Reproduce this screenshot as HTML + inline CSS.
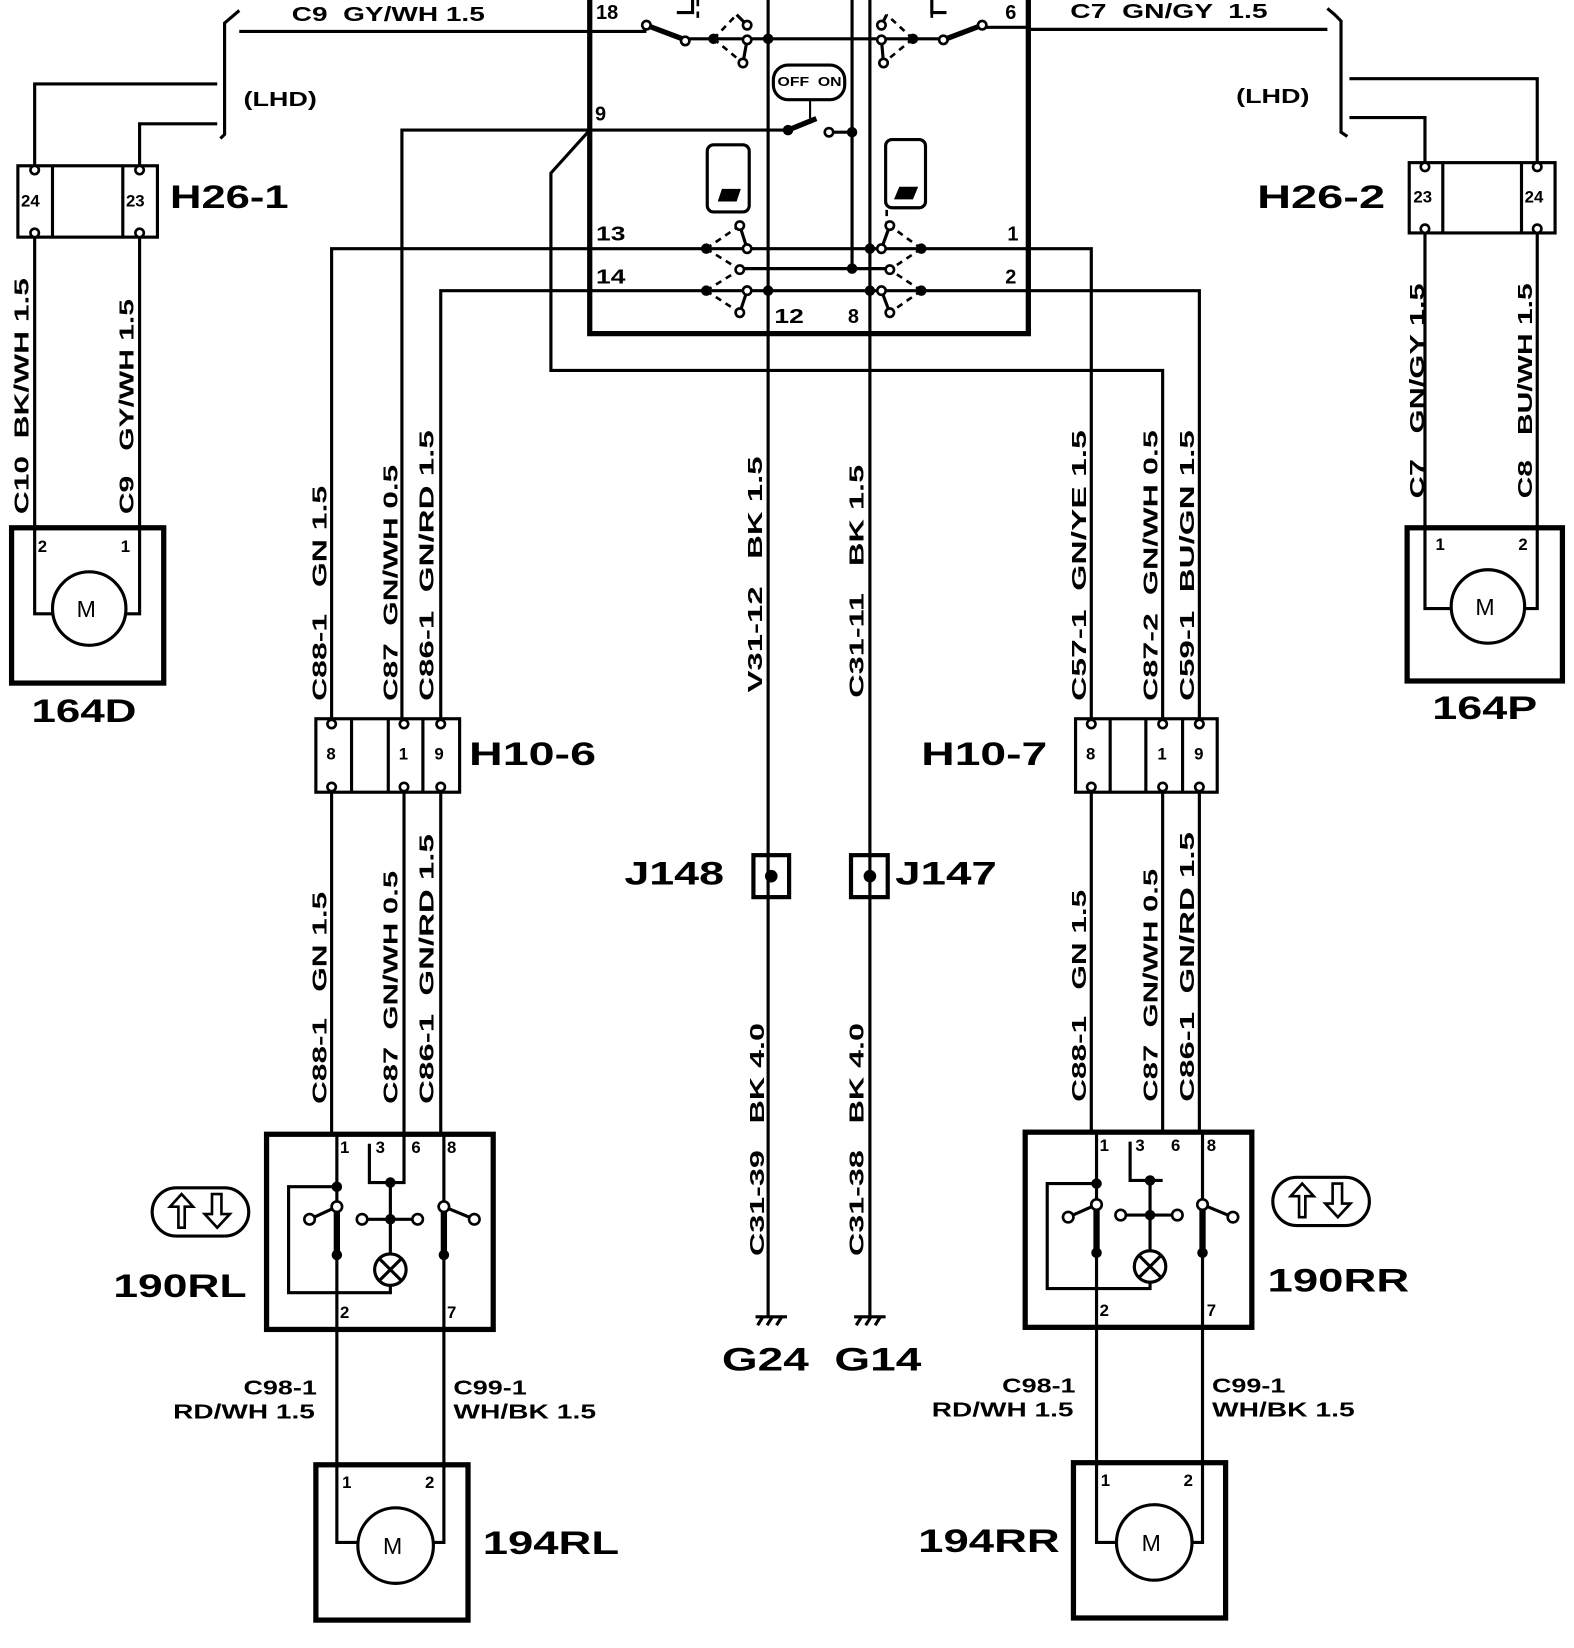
<!DOCTYPE html>
<html><head><meta charset="utf-8"><style>
html,body{margin:0;padding:0;background:#fff;}
svg{display:block;}
text{font-family:"Liberation Sans",Arial,sans-serif;fill:#000;white-space:pre;}
.s{font-size:19px;font-weight:bold;}
.b{font-size:31px;font-weight:bold;}
.p{font-size:16px;font-weight:bold;}
.m{font-size:22px;}
</style></head><body>
<svg width="1574" height="1648" viewBox="0 0 1500 1570.6" xmlns="http://www.w3.org/2000/svg">
<g fill="none" stroke="#000" stroke-width="3">
<path d="M228 30 H562"/>
<path d="M228 10 L221 16 L214 22 V128 L210 132"/>
<path d="M207 80 H33 V160 M207 118 H133 V160"/>
<rect x="17" y="158" width="133" height="68"/>
<path d="M50 158 V226 M117 158 V226"/>
<path d="M33 226 V585 H50 M133 226 V585 H120"/>
<rect x="11" y="503" width="145" height="148" stroke-width="5"/>
<circle cx="85" cy="580" r="35"/>
<path d="M980 28 H1265"/>
<path d="M1265 8 L1272 14 L1278 20 V126 L1284 130"/>
<path d="M1286 75 H1465 V158 M1286 112 H1358 V158"/>
<rect x="1343" y="155" width="139" height="67"/>
<path d="M1375 155 V222 M1450 155 V222"/>
<path d="M1358 222 V580 H1383 M1465 222 V580 H1453"/>
<rect x="1341" y="503" width="148" height="146" stroke-width="5"/>
<circle cx="1418" cy="578" r="35"/>
<path d="M562 0 V318 H980 V0" stroke-width="5"/>
<path d="M562 30 H616"/>
<path d="M653 38 L616 24" stroke-width="5"/>
<path d="M653 37 H899"/>
<path d="M899 38 L936 24" stroke-width="5"/>
<path d="M936 26 H980"/>
<path d="M732 0 V1255 M829 0 V1255 M812 0 V256"/>
<path d="M383 690 V124 H751"/>
<path d="M751 124 L778 113" stroke-width="5"/>
<path d="M790 126 H812"/>
<path d="M562 124 L525 165 V353 H1108 V690"/>
<path d="M316 690 V237 H1040 V690"/>
<path d="M420 690 V277 H1143 V690"/>
<path d="M705 256 H848"/>
<g stroke-dasharray="6,5" stroke-width="2.5">
<path d="M680 37 L702 14 M680 37 L708 60 M673 237 L705 215 M673 237 L705 257 M673 277 L705 257 M673 277 L705 298"/>
<path d="M870 37 L845 14 M870 37 L842 60 M878 237 L848 215 M878 237 L848 257 M878 277 L848 257 M878 277 L848 298"/>
<path d="M665 0 V22 M888 0 V22 M845 200 V215"/>
</g>
<path d="M712 24 L702 14 M712 38 L708 60 M705 215 L712 237 M712 277 L705 298"/>
<path d="M840 24 L845 14 M840 38 L842 60 M848 215 L840 237 M840 277 L848 298"/>
<path d="M645 12 H660 V0 M902 12 H888 V0"/>
<path d="M772 95 V118" stroke-width="2"/>
<rect x="737" y="62" width="68" height="33" rx="14"/>
<rect x="674" y="138" width="40" height="64" rx="6"/>
<rect x="844" y="133" width="38" height="65" rx="6"/>
<rect x="301" y="685" width="137" height="70"/>
<path d="M335 685 V755 M370 685 V755 M403 685 V755"/>
<rect x="1025" y="685" width="135" height="70"/>
<path d="M1058 685 V755 M1092 685 V755 M1127 685 V755"/>
<path d="M316 755 V1080 M385 755 V1080 M420 755 V1080"/>
<path d="M1040 755 V1078 M1108 755 V1078 M1143 755 V1078"/>
<rect x="718" y="815" width="34" height="40" stroke-width="4"/>
<rect x="811" y="815" width="35" height="40" stroke-width="4"/>
<path d="M720 1255 H750 M722 1263 L727 1255 M731 1263 L736 1255 M740 1263 L745 1255"/>
<path d="M814 1255 H844 M816 1263 L821 1255 M825 1263 L830 1255 M834 1263 L839 1255"/>
<rect x="254" y="1081" width="216" height="186" stroke-width="5"/>
<path d="M321 1080 V1150 M321 1190 V1470 H340"/>
<path d="M321 1150 V1196 M423 1150 V1196" stroke-width="6"/>
<path d="M423 1080 V1150 M423 1196 V1470 H413"/>
<path d="M352 1090 V1127 H385 V1080 M372 1127 V1195 M345 1162 H398"/>
<path d="M321 1131 H275 V1232 H372 V1225"/>
<path d="M321 1150 L295 1162 M423 1150 L452 1162"/>
<circle cx="372" cy="1210" r="15"/>
<path d="M361 1199 L383 1221 M383 1199 L361 1221"/>
<rect x="145" y="1132" width="92" height="46" rx="23"/>
<path d="M170 1170 V1150 H162 L173 1138 L184 1150 H176 V1170 Z M202 1138 V1157 H195 L207 1170 L219 1157 H211 V1138 Z" stroke-width="2.5"/>
<rect x="301" y="1396" width="145" height="148" stroke-width="5"/>
<circle cx="377" cy="1473" r="36"/>
<rect x="977" y="1079" width="216" height="186" stroke-width="5"/>
<path d="M1045 1078 V1148 M1045 1190 V1470 H1064"/>
<path d="M1045 1148 V1194 M1146 1148 V1194" stroke-width="6"/>
<path d="M1146 1078 V1148 M1146 1194 V1470 H1136"/>
<path d="M1077 1088 V1125 H1108 M1096 1125 V1193 M1068 1158 H1122"/>
<path d="M1045 1128 H998 V1228 H1096 V1222"/>
<path d="M1045 1148 L1018 1160 M1146 1148 L1175 1160"/>
<circle cx="1096" cy="1207" r="15"/>
<path d="M1085 1196 L1107 1218 M1107 1196 L1085 1218"/>
<rect x="1213" y="1122" width="92" height="46" rx="23"/>
<path d="M1238 1160 V1140 H1230 L1241 1128 L1252 1140 H1244 V1160 Z M1270 1128 V1147 H1263 L1275 1160 L1287 1147 H1279 V1128 Z" stroke-width="2.5"/>
<rect x="1023" y="1394" width="145" height="148" stroke-width="5"/>
<circle cx="1100" cy="1470" r="36"/>
</g>
<g fill="#000">
<circle cx="680" cy="37" r="5"/><circle cx="732" cy="37" r="5"/><circle cx="870" cy="37" r="5"/>
<circle cx="751" cy="124" r="5"/><circle cx="812" cy="126" r="5"/>
<circle cx="673" cy="237" r="5"/><circle cx="829" cy="237" r="5"/><circle cx="878" cy="237" r="5"/>
<circle cx="812" cy="256" r="5"/>
<circle cx="673" cy="277" r="5"/><circle cx="732" cy="277" r="5"/><circle cx="829" cy="277" r="5"/><circle cx="878" cy="277" r="5"/>
<circle cx="735" cy="835" r="6"/><circle cx="829" cy="835" r="6"/>
<circle cx="321" cy="1131" r="5"/><circle cx="372" cy="1127" r="5"/><circle cx="372" cy="1162" r="5"/>
<circle cx="321" cy="1196" r="5"/><circle cx="423" cy="1196" r="5"/>
<circle cx="1045" cy="1128" r="5"/><circle cx="1096" cy="1125" r="5"/><circle cx="1096" cy="1158" r="5"/>
<circle cx="1045" cy="1194" r="5"/><circle cx="1146" cy="1194" r="5"/>
</g>
<g fill="#fff" stroke="#000" stroke-width="2.5">
<circle cx="616" cy="24" r="4"/><circle cx="653" cy="39" r="4"/><circle cx="712" cy="24" r="4"/><circle cx="712" cy="38" r="4"/><circle cx="708" cy="60" r="4"/>
<circle cx="840" cy="24" r="4"/><circle cx="840" cy="38" r="4"/><circle cx="842" cy="60" r="4"/><circle cx="899" cy="38" r="4"/><circle cx="936" cy="24" r="4"/>
<circle cx="790" cy="126" r="4"/>
<circle cx="705" cy="215" r="4"/><circle cx="712" cy="237" r="4"/><circle cx="705" cy="257" r="4"/><circle cx="712" cy="277" r="4"/><circle cx="705" cy="298" r="4"/>
<circle cx="848" cy="215" r="4"/><circle cx="840" cy="237" r="4"/><circle cx="848" cy="257" r="4"/><circle cx="840" cy="277" r="4"/><circle cx="848" cy="298" r="4"/>
<circle cx="33" cy="162" r="4"/><circle cx="133" cy="162" r="4"/><circle cx="33" cy="222" r="4"/><circle cx="133" cy="222" r="4"/>
<circle cx="1358" cy="159" r="4"/><circle cx="1465" cy="159" r="4"/><circle cx="1358" cy="218" r="4"/><circle cx="1465" cy="218" r="4"/>
<circle cx="316" cy="690" r="4"/><circle cx="385" cy="690" r="4"/><circle cx="420" cy="690" r="4"/><circle cx="316" cy="750" r="4"/><circle cx="385" cy="750" r="4"/><circle cx="420" cy="750" r="4"/>
<circle cx="1040" cy="690" r="4"/><circle cx="1108" cy="690" r="4"/><circle cx="1143" cy="690" r="4"/><circle cx="1040" cy="750" r="4"/><circle cx="1108" cy="750" r="4"/><circle cx="1143" cy="750" r="4"/>
<circle cx="321" cy="1150" r="5"/><circle cx="295" cy="1162" r="5"/><circle cx="345" cy="1162" r="5"/><circle cx="398" cy="1162" r="5"/><circle cx="423" cy="1150" r="5"/><circle cx="452" cy="1162" r="5"/>
<circle cx="1045" cy="1148" r="5"/><circle cx="1018" cy="1160" r="5"/><circle cx="1068" cy="1158" r="5"/><circle cx="1122" cy="1158" r="5"/><circle cx="1146" cy="1148" r="5"/><circle cx="1175" cy="1160" r="5"/>
</g>
<path d="M684 192 L688 180 H706 L702 192 Z" fill="#000"/>
<path d="M852 190 L857 178 H875 L870 190 Z" fill="#000"/>
<text class="s" x="278" y="20" textLength="184" lengthAdjust="spacingAndGlyphs">C9  GY/WH 1.5</text>
<text class="s" x="1020" y="17" textLength="188" lengthAdjust="spacingAndGlyphs">C7  GN/GY  1.5</text>
<text class="s" x="232" y="101" textLength="70" lengthAdjust="spacingAndGlyphs">(LHD)</text>
<text class="s" x="1178" y="98" textLength="70" lengthAdjust="spacingAndGlyphs">(LHD)</text>
<text style="font-size:12px;font-weight:bold" x="741" y="82" textLength="61" lengthAdjust="spacingAndGlyphs">OFF  ON</text>
<text class="s" x="568" y="18">18</text>
<text class="s" x="958" y="18">6</text>
<text class="s" x="567" y="115">9</text>
<text class="s" x="568" y="229" textLength="28" lengthAdjust="spacingAndGlyphs">13</text>
<text class="s" x="568" y="270" textLength="28" lengthAdjust="spacingAndGlyphs">14</text>
<text class="s" x="960" y="229">1</text>
<text class="s" x="958" y="270">2</text>
<text class="s" x="738" y="308" textLength="28" lengthAdjust="spacingAndGlyphs">12</text>
<text class="s" x="808" y="308">8</text>
<text class="p" x="20" y="197">24</text>
<text class="p" x="120" y="197">23</text>
<text class="p" x="1347" y="193">23</text>
<text class="p" x="1453" y="193">24</text>
<text class="b" x="162" y="198" textLength="113" lengthAdjust="spacingAndGlyphs">H26-1</text>
<text class="b" x="1198" y="198" textLength="122" lengthAdjust="spacingAndGlyphs">H26-2</text>
<text class="p" x="36" y="526">2</text>
<text class="p" x="115" y="526">1</text>
<text class="p" x="1368" y="524">1</text>
<text class="p" x="1447" y="524">2</text>
<text class="m" x="73" y="588">M</text>
<text class="m" x="1406" y="586">M</text>
<text class="b" x="30" y="688" textLength="100" lengthAdjust="spacingAndGlyphs">164D</text>
<text class="b" x="1365" y="685" textLength="100" lengthAdjust="spacingAndGlyphs">164P</text>
<text class="p" x="311" y="724">8</text>
<text class="p" x="380" y="724">1</text>
<text class="p" x="414" y="724">9</text>
<text class="p" x="1035" y="724">8</text>
<text class="p" x="1103" y="724">1</text>
<text class="p" x="1138" y="724">9</text>
<text class="b" x="447" y="729" textLength="121" lengthAdjust="spacingAndGlyphs">H10-6</text>
<text class="b" x="878" y="729" textLength="120" lengthAdjust="spacingAndGlyphs">H10-7</text>
<text class="b" x="595" y="843" textLength="95" lengthAdjust="spacingAndGlyphs">J148</text>
<text class="b" x="853" y="843" textLength="97" lengthAdjust="spacingAndGlyphs">J147</text>
<text class="b" x="688" y="1306" textLength="190" lengthAdjust="spacingAndGlyphs">G24  G14</text>
<text class="p" x="324" y="1099">1</text>
<text class="p" x="358" y="1099">3</text>
<text class="p" x="392" y="1099">6</text>
<text class="p" x="426" y="1099">8</text>
<text class="p" x="324" y="1256">2</text>
<text class="p" x="426" y="1256">7</text>
<text class="p" x="1048" y="1097">1</text>
<text class="p" x="1082" y="1097">3</text>
<text class="p" x="1116" y="1097">6</text>
<text class="p" x="1150" y="1097">8</text>
<text class="p" x="1048" y="1254">2</text>
<text class="p" x="1150" y="1254">7</text>
<text class="b" x="108" y="1236" textLength="127" lengthAdjust="spacingAndGlyphs">190RL</text>
<text class="b" x="1208" y="1231" textLength="135" lengthAdjust="spacingAndGlyphs">190RR</text>
<text class="s" x="232" y="1329" textLength="70" lengthAdjust="spacingAndGlyphs">C98-1</text>
<text class="s" x="165" y="1352" textLength="135" lengthAdjust="spacingAndGlyphs">RD/WH 1.5</text>
<text class="s" x="432" y="1329" textLength="70" lengthAdjust="spacingAndGlyphs">C99-1</text>
<text class="s" x="432" y="1352" textLength="136" lengthAdjust="spacingAndGlyphs">WH/BK 1.5</text>
<text class="s" x="955" y="1327" textLength="70" lengthAdjust="spacingAndGlyphs">C98-1</text>
<text class="s" x="888" y="1350" textLength="135" lengthAdjust="spacingAndGlyphs">RD/WH 1.5</text>
<text class="s" x="1155" y="1327" textLength="70" lengthAdjust="spacingAndGlyphs">C99-1</text>
<text class="s" x="1155" y="1350" textLength="136" lengthAdjust="spacingAndGlyphs">WH/BK 1.5</text>
<text class="p" x="326" y="1418">1</text>
<text class="p" x="405" y="1418">2</text>
<text class="p" x="1049" y="1416">1</text>
<text class="p" x="1128" y="1416">2</text>
<text class="m" x="365" y="1481">M</text>
<text class="m" x="1088" y="1478">M</text>
<text class="b" x="460" y="1481" textLength="130" lengthAdjust="spacingAndGlyphs">194RL</text>
<text class="b" x="875" y="1479" textLength="135" lengthAdjust="spacingAndGlyphs">194RR</text>
<g class="s">
<text transform="translate(27,490) rotate(-90)" textLength="225" lengthAdjust="spacingAndGlyphs">C10  BK/WH 1.5</text>
<text transform="translate(127,490) rotate(-90)" textLength="205" lengthAdjust="spacingAndGlyphs">C9   GY/WH 1.5</text>
<text transform="translate(1357,475) rotate(-90)" textLength="205" lengthAdjust="spacingAndGlyphs">C7   GN/GY 1.5</text>
<text transform="translate(1460,475) rotate(-90)" textLength="205" lengthAdjust="spacingAndGlyphs">C8   BU/WH 1.5</text>
<text transform="translate(311,668) rotate(-90)" textLength="205" lengthAdjust="spacingAndGlyphs">C88-1   GN 1.5</text>
<text transform="translate(379,668) rotate(-90)" textLength="225" lengthAdjust="spacingAndGlyphs">C87  GN/WH 0.5</text>
<text transform="translate(413,668) rotate(-90)" textLength="258" lengthAdjust="spacingAndGlyphs">C86-1  GN/RD 1.5</text>
<text transform="translate(726,660) rotate(-90)" textLength="225" lengthAdjust="spacingAndGlyphs">V31-12   BK 1.5</text>
<text transform="translate(823,665) rotate(-90)" textLength="222" lengthAdjust="spacingAndGlyphs">C31-11   BK 1.5</text>
<text transform="translate(1035,668) rotate(-90)" textLength="258" lengthAdjust="spacingAndGlyphs">C57-1  GN/YE 1.5</text>
<text transform="translate(1103,668) rotate(-90)" textLength="258" lengthAdjust="spacingAndGlyphs">C87-2  GN/WH 0.5</text>
<text transform="translate(1138,668) rotate(-90)" textLength="258" lengthAdjust="spacingAndGlyphs">C59-1  BU/GN 1.5</text>
<text transform="translate(311,1052) rotate(-90)" textLength="202" lengthAdjust="spacingAndGlyphs">C88-1   GN 1.5</text>
<text transform="translate(379,1052) rotate(-90)" textLength="222" lengthAdjust="spacingAndGlyphs">C87  GN/WH 0.5</text>
<text transform="translate(413,1052) rotate(-90)" textLength="257" lengthAdjust="spacingAndGlyphs">C86-1  GN/RD 1.5</text>
<text transform="translate(728,1197) rotate(-90)" textLength="222" lengthAdjust="spacingAndGlyphs">C31-39   BK 4.0</text>
<text transform="translate(823,1197) rotate(-90)" textLength="222" lengthAdjust="spacingAndGlyphs">C31-38   BK 4.0</text>
<text transform="translate(1035,1050) rotate(-90)" textLength="202" lengthAdjust="spacingAndGlyphs">C88-1   GN 1.5</text>
<text transform="translate(1103,1050) rotate(-90)" textLength="222" lengthAdjust="spacingAndGlyphs">C87  GN/WH 0.5</text>
<text transform="translate(1138,1050) rotate(-90)" textLength="257" lengthAdjust="spacingAndGlyphs">C86-1  GN/RD 1.5</text>
</g>
</svg>
</body></html>
